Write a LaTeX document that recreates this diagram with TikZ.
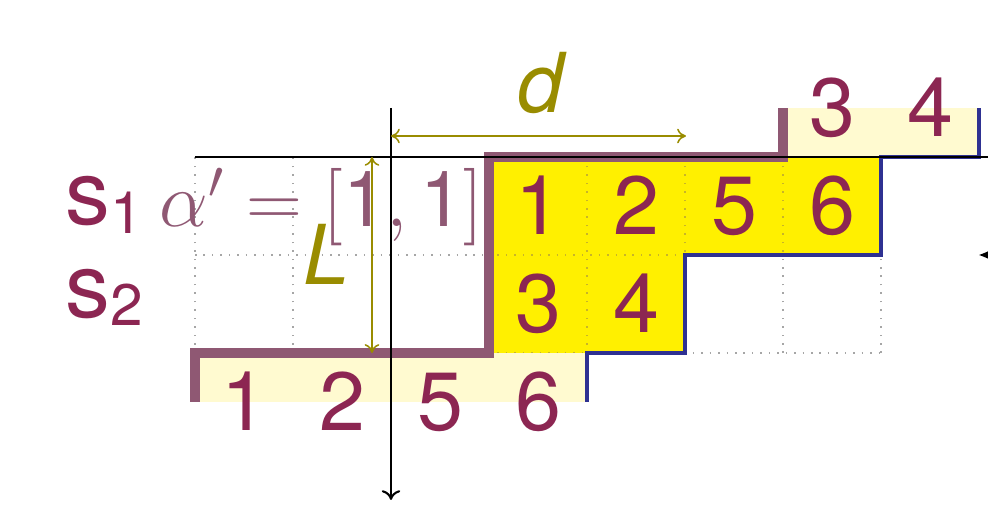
\RequirePackage{fix-cm}
\documentclass[tikz,border=0pt]{standalone}
\usepackage[no-math]{fontspec}
\setmainfont{TeX Gyre Heros}
\usetikzlibrary{arrows.meta}
\definecolor{txtpurple}{RGB}{140,38,82}
\definecolor{fadepurple}{RGB}{143,88,115}
\definecolor{olivec}{RGB}{153,140,0}
\definecolor{bluec}{RGB}{46,49,146}
\definecolor{yelc}{RGB}{255,240,0}
\definecolor{lyelc}{RGB}{255,250,208}
\definecolor{ydotc}{RGB}{200,180,40}
\newcommand{\mysub}[1]{\raisebox{-2.6pt}{\fontsize{17}{18}\selectfont #1}}
\tikzset{
  gridline/.style={dotted, line width=0.45pt, black!35},
  ydots/.style={dotted, line width=0.45pt, ydotc},
  num/.style={font=\fontsize{24}{28}\selectfont, text=txtpurple, anchor=base, inner sep=0pt},
  slabel/.style={font=\fontsize{26}{30}\selectfont, text=txtpurple, anchor=base west, inner sep=0pt},
  olabel/.style={font=\fontsize{24}{28}\selectfont\itshape, text=olivec, anchor=base, inner sep=0pt},
  pline/.style={draw=fadepurple, line width=2.9pt, line cap=butt, line join=miter},
  bline/.style={draw=bluec, line width=1.2pt, line cap=butt, line join=miter},
  axisline/.style={draw=black, line width=0.6pt},
  smalltip/.style={To[length=0.9mm,width=1.5mm]},
  dimarrow/.style={draw=olivec, line width=0.45pt, {To[length=0.9mm,width=1.5mm]}-{To[length=0.9mm,width=1.5mm]}},
}
\begin{document}
\begin{tikzpicture}[x=1cm,y=1cm]
\useasboundingbox (-3.99,1.602) rectangle (6.092,-3.592);
\clip (-3.99,1.602) rectangle (6.092,-3.592);
% dotted grid
\draw[gridline] (-2,0) grid (5,-2);
% yellow cells
\fill[yelc] (1,0) rectangle (5,-1);
\fill[yelc] (1,-1) rectangle (3,-2);
\begin{scope}
  \clip (1,0) rectangle (5,-1) (1,-1) rectangle (3,-2);
  \draw[ydots] (1,0) grid (5,-2);
\end{scope}
% shifted light copies
\fill[lyelc] (-2,-2) rectangle (2,-2.5);
\fill[lyelc] (4,0) rectangle (6,0.5);
% numbers
\node[num] (a1) at (1.5,-0.796) {1};
\node[num] (a2) at (2.5,-0.796) {2};
\node[num] (a5) at (3.5,-0.796) {5};
\node[num] (a6) at (4.5,-0.796) {6};
\node[num] (b3) at (1.5,-1.796) {3};
\node[num] (b4) at (2.5,-1.796) {4};
\node[num] (c1) at (-1.5,-2.796) {1};
\node[num] (c2) at (-0.5,-2.796) {2};
\node[num] (c5) at (0.5,-2.796) {5};
\node[num] (c6) at (1.5,-2.796) {6};
\node[num] (t3) at (4.5,0.204) {3};
\node[num] (t4) at (5.5,0.204) {4};
% boundary lines
\draw[pline] (-2,-2.5) -- (-2,-2) -- (1,-2) -- (1,0) -- (4,0) -- (4,0.5);
\draw[bline] (2,-2.5) -- (2,-2) -- (3,-2) -- (3,-1) -- (5,-1) -- (5,0) -- (6,0) -- (6,0.5);
% axes
\coordinate (vtop) at (0,0.5);
\coordinate (vbot) at (0,-3.5);
\coordinate (hleft) at (-2,0);
\coordinate (hright) at (6.3,0);
\draw[axisline] (hleft) -- (hright);
\draw[axisline,-{To[length=1mm,width=1.9mm]}] (vtop) -- (vbot);
% dimension arrows
\coordinate (d0) at (0,0.214);
\coordinate (d1) at (3.01,0.214);
\draw[dimarrow] (d0) -- (d1);
\coordinate (l0) at (-0.194,0);
\coordinate (l1) at (-0.194,-2);
\draw[dimarrow] (l0) -- (l1);
\node[olabel] (dlab) at (1.53,0.459) {d};
\node[olabel] (llab) at (-0.66,-1.306) {L};
% row labels
\node[slabel] (s1) at (-3.33,-0.694) {s\mysub{1}};
\node[slabel] (s2) at (-3.33,-1.633) {s\mysub{2}};
\node[anchor=base west, inner sep=0pt, text=fadepurple, font=\fontsize{22.5}{26}\selectfont] (alpha) at (-2.367,-0.714) {$\alpha' = [\mbox{1}, \mbox{1}]$};
% partial arrow at right edge
\coordinate (rs) at (6.8,-1);
\coordinate (rt) at (6.0,-1);
\draw[-{Latex[length=3mm,width=3.2mm]}, line width=0.6pt] (rs) -- (rt);
\end{tikzpicture}
\end{document}
